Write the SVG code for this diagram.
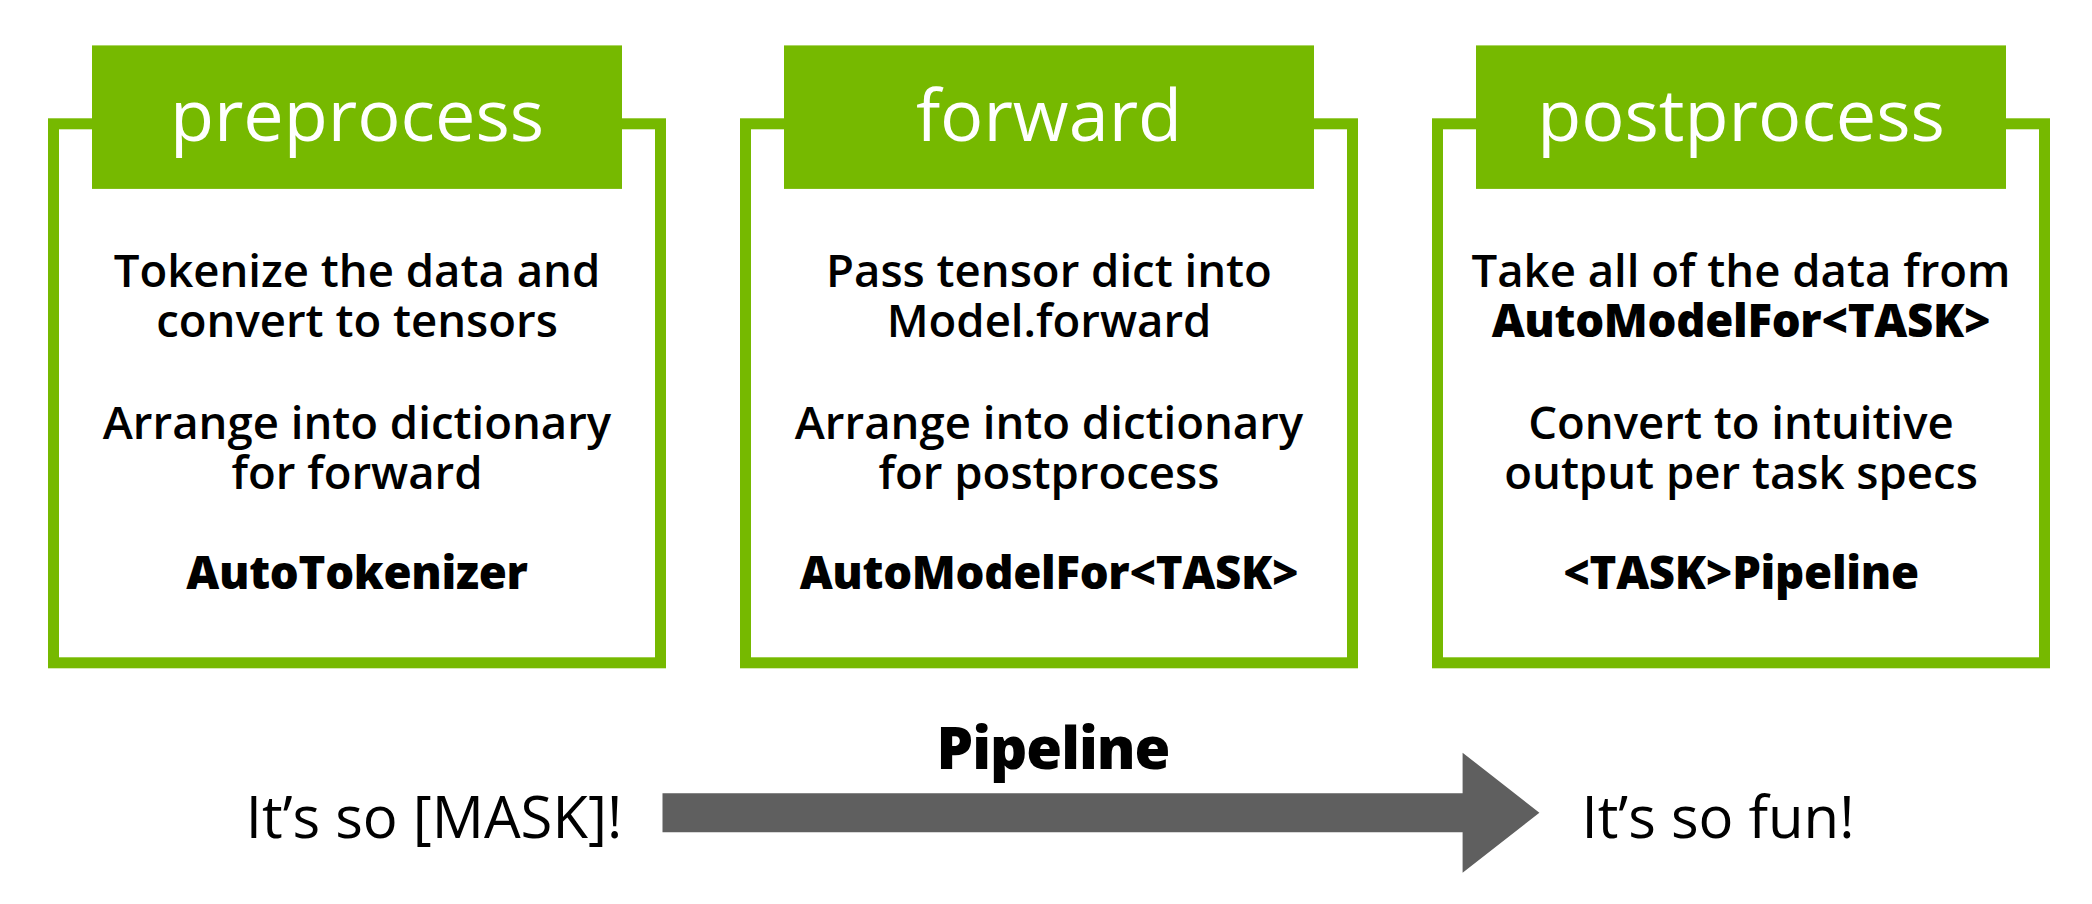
<svg xmlns="http://www.w3.org/2000/svg" width="2092" height="904" viewBox="0 0 2092 904">
<style>
.frame{fill:#ffffff;stroke:#76b900;stroke-width:11}
.hdr{fill:#76b900}
.ht{font-family:"Open Sans","Liberation Sans",sans-serif;font-weight:400;font-size:72px;fill:#ffffff;text-anchor:middle}
.bt{font-family:"Open Sans","Liberation Sans",sans-serif;font-weight:600;font-size:45.5px;fill:#000000;text-anchor:middle}
.hv{font-family:"Open Sans","Liberation Sans",sans-serif;font-weight:800;font-size:45.5px;fill:#000000;text-anchor:middle;letter-spacing:-0.3px}
.lt{font-family:"Open Sans","Liberation Sans",sans-serif;font-weight:400;font-size:58px;fill:#000000;text-anchor:middle}
.pl{font-family:"Open Sans","Liberation Sans",sans-serif;font-weight:800;font-size:58px;fill:#000000;text-anchor:middle;letter-spacing:-1px}
</style>
<rect x="0" y="0" width="2092" height="904" fill="#ffffff"/>
<g id="preprocess">
<rect class="frame" x="53.5" y="123.8" width="607" height="539"/>
<rect class="hdr" x="92" y="45.4" width="530" height="143.5"/>
<text class="ht" x="357" y="141.2">preprocess</text>
<text class="bt"><tspan x="357" y="287.3">Tokenize the data and</tspan><tspan x="357" y="337">convert to tensors</tspan></text>
<text class="bt"><tspan x="357" y="438.7">Arrange into dictionary</tspan><tspan x="357" y="488.5">for forward</tspan></text>
<text class="hv" x="357" y="588.9">AutoTokenizer</text>
</g>
<g id="forward">
<rect class="frame" x="745.5" y="123.8" width="607" height="539"/>
<rect class="hdr" x="784" y="45.4" width="530" height="143.5"/>
<text class="ht" x="1049" y="141.2">forward</text>
<text class="bt"><tspan x="1049" y="287.3">Pass tensor dict into</tspan><tspan x="1049" y="337">Model.forward</tspan></text>
<text class="bt"><tspan x="1049" y="438.7">Arrange into dictionary</tspan><tspan x="1049" y="488.5">for postprocess</tspan></text>
<text class="hv" x="1049" y="588.9">AutoModelFor&lt;TASK&gt;</text>
</g>
<g id="postprocess">
<rect class="frame" x="1437.5" y="123.8" width="607" height="539"/>
<rect class="hdr" x="1476" y="45.4" width="530" height="143.5"/>
<text class="ht" x="1741" y="141.2">postprocess</text>
<text class="bt"><tspan x="1741" y="287.3">Take all of the data from</tspan><tspan class="hv" x="1741" y="337">AutoModelFor&lt;TASK&gt;</tspan></text>
<text class="bt"><tspan x="1741" y="438.7">Convert to intuitive</tspan><tspan x="1741" y="488.5">output per task specs</tspan></text>
<text class="hv" x="1741" y="588.9">&lt;TASK&gt;Pipeline</text>
</g>
<g id="input">
<text class="lt" x="434" y="838.3">It’s so [MASK]!</text>
</g>
<g id="output">
<text class="lt" x="1718" y="838.3">It’s so fun!</text>
</g>
<g id="connectors">
<polygon points="662.5,793.3 1462.6,793.3 1462.6,752.7 1539.4,812.7 1462.6,872.7 1462.6,832.3 662.5,832.3" fill="#5f5f5f"/>
<text class="pl" x="1053" y="769.3">Pipeline</text>
</g>
</svg>
